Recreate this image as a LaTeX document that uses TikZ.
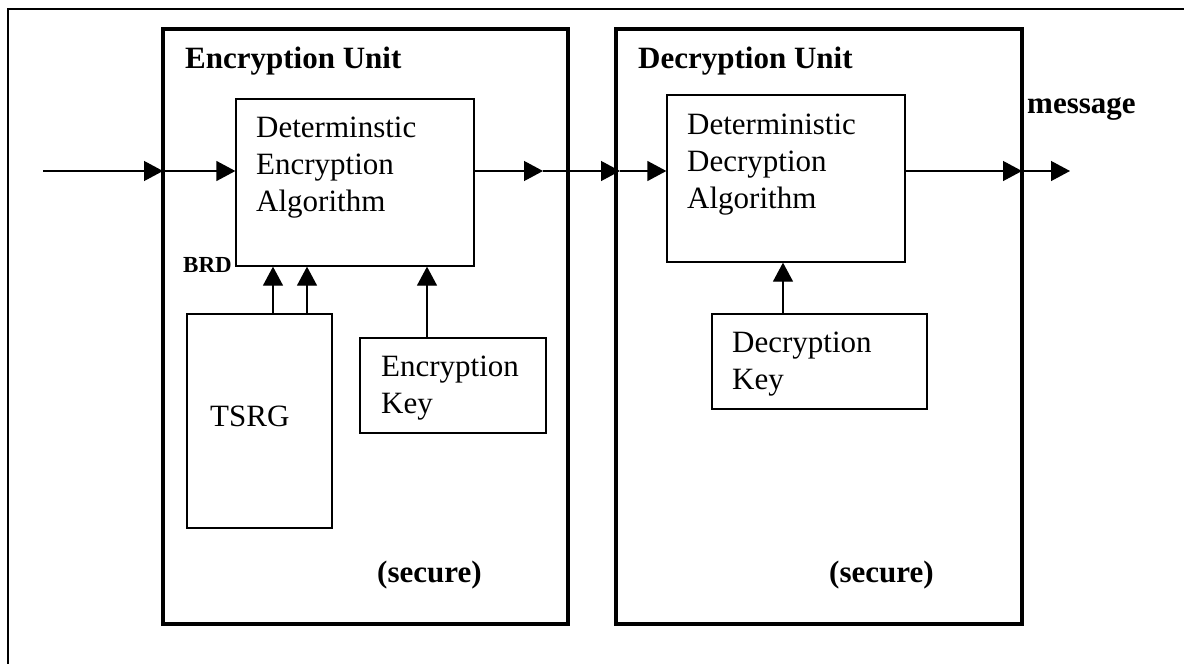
\documentclass[tikz,border=0pt]{standalone}
\usepackage{fontspec}
\setmainfont{Liberation Serif}
\usetikzlibrary{arrows.meta,positioning}

\begin{document}
\begin{tikzpicture}[
  x=1pt, y=-1pt,
  unit/.style={rectangle, draw, line width=3.3pt, inner sep=0pt, outer sep=0pt},
  blk/.style={rectangle, draw, line width=1.3pt, inner sep=0pt},
  txt/.style={inner sep=0pt, align=left, font=\fontsize{31}{37}\selectfont},
  lbl/.style={inner sep=0pt, font=\fontsize{31}{37}\selectfont\bfseries},
  arr/.style={line width=1.3pt, -{Triangle[length=19pt,width=20pt]}}
]
\useasboundingbox (0,0) rectangle (1184,664);
\clip (0,0) rectangle (1184,664);
% outer frame, runs off the page
\draw[line width=2.2pt] (8,680) -- (8,9) -- (1200,9);

% the two units
\node[unit, minimum width=405pt, minimum height=595pt] (encunit) at (365.5,326.5) {};
\node[unit, minimum width=406pt, minimum height=595pt] (decunit) at (819,326.5) {};
\node[lbl, anchor=base west] (enctitle) at (185,68) {Encryption Unit};
\node[lbl, anchor=base west] (dectitle) at (638,68) {Decryption Unit};

% inner blocks
\node[blk, minimum width=238pt, minimum height=167pt] (encalg) at (355,182.5) {};
\node[blk, minimum width=238pt, minimum height=167pt] (decalg) at (786,178.5) {};
\node[blk, minimum width=145pt, minimum height=214pt] (tsrg) at (259.5,421) {};
\node[blk, minimum width=186pt, minimum height=95pt] (enckey) at (453,385.5) {};
\node[blk, minimum width=215pt, minimum height=95pt] (deckey) at (819.5,361.5) {};

\node[txt, anchor=north west] (encalgtxt) at (256,117) {Determinstic\\Encryption\\Algorithm};
\node[txt, anchor=north west] (decalgtxt) at (687,114) {Deterministic\\Decryption\\Algorithm};
\node[txt, anchor=north west] (enckeytxt) at (381,356) {Encryption\\Key};
\node[txt, anchor=north west] (deckeytxt) at (732,332) {Decryption\\Key};
\node[txt, anchor=base west] (tsrgtxt) at (210,426) {TSRG};

\node[lbl, anchor=base west, font=\fontsize{23}{28}\selectfont\bfseries] (brd) at (183,272) {BRD};
\node[lbl, anchor=base west] (msg) at (1027,113) {message};
\node[lbl, anchor=base west] (encsec) at (377,582) {(secure)};
\node[lbl, anchor=base west] (decsec) at (829,582) {(secure)};

% main data path
\coordinate (in) at (43,171);
\coordinate (mid) at (543,171);
\coordinate (gate) at (620,171);
\coordinate (out) at (1070,171);
\draw[arr] (in) -- (in -| encunit.west);
\draw[arr] (in -| encunit.west) -- (in -| encalg.west);
\draw[arr] (in -| encalg.east) -- (mid);
\draw[arr] (mid) -- (gate);
\draw[arr] (gate) -- (in -| decalg.west);
\draw[arr] (in -| decalg.east) -- (in -| decunit.east);
\draw[arr] (in -| decunit.east) -- (out);

% feeds into the algorithms
\coordinate (t1) at ([xshift=13.5pt]tsrg.north);
\coordinate (t2) at ([xshift=47.5pt]tsrg.north);
\coordinate (k1) at ([xshift=-26pt]enckey.north);
\coordinate (k2) at ([xshift=-36.5pt]deckey.north);
\draw[arr] (t1) -- (t1 |- encalg.south);
\draw[arr] (t2) -- (t2 |- encalg.south);
\draw[arr] (k1) -- (k1 |- encalg.south);
\draw[arr] (k2) -- (k2 |- decalg.south);
\end{tikzpicture}
\end{document}
